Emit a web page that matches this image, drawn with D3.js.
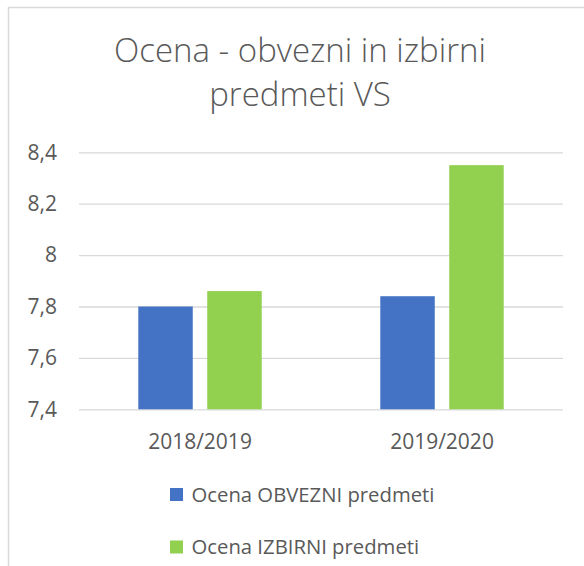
<!DOCTYPE html>
<html>
<head>
<meta charset="utf-8">
<script src="https://cdn.jsdelivr.net/npm/d3@7"></script>
<style>
    body { margin: 0; background: #fff; }
    text { font-family: "Open Sans", sans-serif; fill: #595959; }
</style>
</head>
<body>
<div id="chart"></div>
<script>
const categories = ["2018/2019", "2019/2020"];
const seriesNames = ["Ocena OBVEZNI predmeti", "Ocena IZBIRNI predmeti"];
const obvezni = [7.80, 7.84];
const izbirni = [7.86, 8.35];
const yTicks = [7.4, 7.6, 7.8, 8, 8.2, 8.4];
const titleLines = ["Ocena - obvezni in izbirni", "predmeti VS"];

const colors = ["#4472c4", "#92d050"];
const W = 584, H = 566;
let margin = {top: 152.3, right: 21, bottom: 156.7, left: 79},
    width = W - margin.left - margin.right,
    height = H - margin.top - margin.bottom;

const svg = d3.select("#chart")
    .append("svg")
    .attr("width", W)
    .attr("height", H);

// chart frame (runs past the right and bottom edges)
svg.append("rect")
    .attr("x", 8.5).attr("y", 7.5)
    .attr("width", 600).attr("height", 600)
    .attr("fill", "none")
    .attr("stroke", "#d9d9d9")
    .attr("stroke-width", 1.5);

// title
svg.selectAll(".title")
    .data(titleLines)
    .enter()
    .append("text")
    .attr("class", "title")
    .attr("x", 300)
    .attr("y", (d, i) => 62 + i * 44)
    .attr("text-anchor", "middle")
    .style("font-size", "33px")
    .style("font-weight", 300)
    .text(d => d);

const g = svg.append("g")
    .attr("transform", `translate(${margin.left}, ${margin.top})`);

const comma = d3.formatLocale({decimal: ",", thousands: ".", grouping: [3], currency: ["", ""]}).format("~g");

/* Y-scale */
const y = d3.scaleLinear()
    .domain([7.4, 8.4])
    .range([height, 0]);

const yAxis = g.append("g")
    .call(d3.axisLeft(y).tickValues(yTicks).tickFormat(comma).tickSize(-width).tickPadding(22));
yAxis.select(".domain").remove();
yAxis.selectAll("line").attr("stroke", "#d9d9d9").attr("stroke-width", 1.3);
yAxis.selectAll("text").style("font-size", "21px").attr("fill", "#595959");

/* X-scale */
const x0 = d3.scaleBand()
    .domain(categories)
    .range([0, width])
    .padding(0);

const x1 = d3.scaleBand()
    .domain(seriesNames)
    .range([0, x0.bandwidth()])
    .paddingInner(0.21)
    .paddingOuter(0.86);

const xAxis = g.append("g")
    .attr("transform", `translate(0, ${height})`)
    .call(d3.axisBottom(x0).tickSize(0).tickPadding(25));
xAxis.select(".domain").remove();
xAxis.selectAll("text").style("font-size", "21px").attr("fill", "#595959");

const groupedData = categories.map((c, i) => ({
    cat: c,
    values: [
        {series: seriesNames[0], value: obvezni[i], color: colors[0]},
        {series: seriesNames[1], value: izbirni[i], color: colors[1]}
    ]
}));

g.selectAll(".group")
    .data(groupedData)
    .enter()
    .append("g")
    .attr("transform", d => `translate(${x0(d.cat)}, 0)`)
    .selectAll("rect")
    .data(d => d.values)
    .enter()
    .append("rect")
    .attr("x", d => x1(d.series))
    .attr("y", d => y(d.value))
    .attr("width", x1.bandwidth())
    .attr("height", d => height - y(d.value))
    .attr("fill", d => d.color);

// legend
const legend = svg.selectAll(".legend")
    .data(seriesNames)
    .enter()
    .append("g")
    .attr("transform", (d, i) => `translate(170, ${488 + i * 52.5})`);

legend.append("rect")
    .attr("width", 13)
    .attr("height", 13)
    .attr("fill", (d, i) => colors[i]);

legend.append("text")
    .attr("x", 21.5)
    .attr("y", 13.5)
    .style("font-size", "20.3px")
    .text(d => d);
</script>
</body>
</html>
